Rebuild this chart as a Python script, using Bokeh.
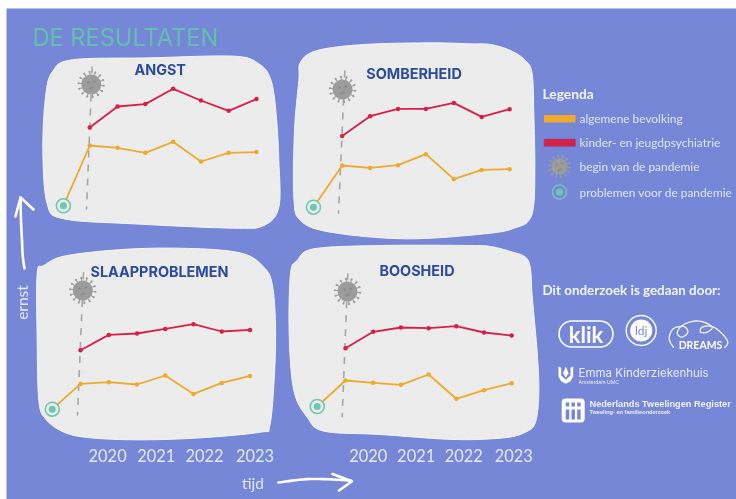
import math
from bokeh.plotting import figure
from bokeh.models import Range1d
from bokeh.core.properties import value
from bokeh.embed import file_html
from bokeh.resources import INLINE

title = "DE RESULTATEN"
panel_names = ["ANGST", "SOMBERHEID", "SLAAPPROBLEMEN", "BOOSHEID"]
measure_index = [1, 2, 3, 4, 5, 6, 7]
year_labels = ["2020", "2021", "2022", "2023"]

# severity (arbitrary units), pre-pandemic point is the zero
angst_general = [0, 60.3, 58, 53, 64, 44.3, 53, 53.7]
angst_clinic = [78.3, 99.3, 101.7, 117, 105.3, 95, 106.7]
somber_general = [0, 41.7, 39.3, 42, 53, 28, 37.3, 38]
somber_clinic = [71.3, 91, 98.3, 98.3, 104.3, 90.3, 98]
slaap_general = [0, 25.3, 27, 24.7, 33.7, 15.3, 26.3, 33.3]
slaap_clinic = [59, 74.3, 75.7, 80.3, 85, 77.7, 79.3]
boos_general = [0, 26, 23.7, 21.7, 32, 7.7, 16.3, 23.3]
boos_clinic = [58.3, 74.7, 79, 78.3, 80.3, 74, 71]
pre_index = [0.05, -0.03, 0.0, -0.02]
slaap_year_ticks = [1.96, 3.68, 5.39, 7.18]
boos_year_ticks = [1.82, 3.55, 5.27, 7.07]

legend_labels = ["algemene bevolking", "kinder- en jeugdpsychiatrie",
                 "begin van de pandemie", "problemen voor de pandemie"]

BG = "#7587d6"
PANEL = "#ececec"
YEL = "#eeaa2c"
RED = "#d81f45"
TEAL = "#6cc8b2"
NAVY = "#2b4b9b"
SOFT = "#e4e8f8"
GREY = "#9c9c9c"


def smooth(points, closed=True, n=10):
    pts = list(points)
    L = len(pts)
    xs, ys = [], []
    rng = range(L) if closed else range(L - 1)
    for i in rng:
        if closed:
            p0, p1, p2, p3 = pts[(i - 1) % L], pts[i], pts[(i + 1) % L], pts[(i + 2) % L]
        else:
            p0, p1, p2, p3 = pts[max(i - 1, 0)], pts[i], pts[i + 1], pts[min(i + 2, L - 1)]
        for k in range(n):
            t = k / n
            for j, out in ((0, xs), (1, ys)):
                out.append(0.5 * (2 * p1[j] + (p2[j] - p0[j]) * t
                                  + (2 * p0[j] - 5 * p1[j] + 4 * p2[j] - p3[j]) * t * t
                                  + (3 * p1[j] - p0[j] - 3 * p2[j] + p3[j]) * t ** 3))
    if not closed:
        xs.append(pts[-1][0])
        ys.append(pts[-1][1])
    return xs, ys


def zoomed(points, ox, oy):
    return [(ox + a / 3, oy + b / 3) for a, b in points]


LEFT, RIGHT, TOP, BOTTOM = 0, 736, 0, 499
p = figure(width=RIGHT - LEFT, height=BOTTOM - TOP, toolbar_location=None, output_backend="svg",
           x_range=Range1d(LEFT, RIGHT), y_range=Range1d(BOTTOM, TOP),
           min_border=0, outline_line_color=None, background_fill_color="white",
           border_fill_color="white")
p.styles = {"position": "fixed", "left": "0", "top": "0"}
p.xaxis.visible = False
p.yaxis.visible = False
p.grid.visible = False

p.quad(left=[6], right=[736], top=[8], bottom=[499], fill_color=BG, line_color=None)


def label(x, y, t, size, color=SOFT, font="Lato", style="normal", align="left", angle=0.0, **kw):
    p.text([x], [y], text=[t], text_font=value(font), text_font_size=f"{size}px",
           text_font_style=style, text_color=color, text_align=align,
           text_baseline="middle", angle=angle, **kw)


label(32, 36.5, title, 23.6, color="#62c0ae", font="Inter")

blobs = [
    zoomed([(215, 178), (450, 172), (700, 167), (775, 190), (810, 235), (826, 330), (835, 480), (835, 620),
            (790, 675), (700, 683), (400, 670), (190, 655), (140, 610), (127, 450), (135, 290), (155, 215)], 0, 0),
    zoomed([(60, 95), (110, 60), (250, 42), (450, 37), (570, 40), (630, 42), (690, 60), (735, 90), (755, 130),
            (760, 250), (763, 400), (760, 520), (745, 570), (710, 590), (630, 608), (380, 625), (150, 605),
            (60, 570), (40, 500), (42, 300), (55, 150)], 280, 30),
    zoomed([(110, 100), (130, 75), (200, 45), (400, 25), (600, 25), (730, 40), (790, 80), (815, 130), (825, 250),
            (822, 400), (808, 555), (780, 575), (600, 592), (420, 598), (270, 592), (190, 575), (135, 535),
            (115, 480), (110, 300)], 0, 240),
    zoomed([(30, 100), (50, 60), (100, 25), (300, 15), (570, 15), (630, 18), (690, 33), (735, 50), (750, 85),
            (755, 165), (770, 335), (775, 455), (765, 545), (735, 575), (670, 592), (520, 597), (300, 582),
            (130, 572), (80, 530), (40, 450), (26, 280)], 280, 240),
]
for b in blobs:
    xs, ys = smooth(b)
    p.patch(xs, ys, fill_color=PANEL, line_color="#f6f7fb", line_width=1)


def virus(cx, cy, r=9.5):
    xs0, ys0, xs1, ys1 = [], [], [], []
    for i in range(14):
        a = 2 * math.pi * i / 14 + 0.1
        xs0.append(cx + r * math.cos(a))
        ys0.append(cy + r * math.sin(a))
        xs1.append(cx + (r + 3.2) * math.cos(a))
        ys1.append(cy + (r + 3.2) * math.sin(a))
    p.segment(xs0, ys0, xs1, ys1, line_color=GREY, line_width=1.1)
    p.scatter(xs1, ys1, size=2.2, fill_color=GREY, line_color=None)
    p.scatter([cx], [cy], size=2 * r + 1, fill_color=GREY, line_color=None)
    p.scatter([cx - 3, cx + 3, cx + 1, cx - 1], [cy - 2, cy - 3, cy + 3, cy + 4], size=2.4,
              fill_color="#8a8a8a", line_color=None)


dash_lines = [((91.7, 66), (86, 209)), (zoomed([(193, 120), (174, 550)], 280, 30)),
              (zoomed([(249, 95), (231, 525)], 0, 240)), (zoomed([(202, 98), (185, 530)], 280, 240))]
for a, b in dash_lines:
    p.line([a[0], b[0]], [a[1], b[1]], line_color="#a6a6a6", line_width=1.6, line_dash="7 7")

virus_pos = [(90.7, 84), (342, 89), (82.3, 290), (347, 291)]
for c in virus_pos:
    virus(*c)

# per panel scale: pixel of index 1, px per index step, pixel of severity 0
panel_scales = [(89.3, 27.78, 205.3), (341.7, 27.9, 206.7), (80.0, 28.25, 408.7), (345.0, 27.7, 406.0)]
general = [angst_general, somber_general, slaap_general, boos_general]
clinic = [angst_clinic, somber_clinic, slaap_clinic, boos_clinic]

for i, (x0, dx, y0) in enumerate(panel_scales):
    xn, yn = f"px{i}", f"py{i}"
    p.extra_x_ranges[xn] = Range1d(1 + (LEFT - x0) / dx, 1 + (RIGHT - x0) / dx)
    p.extra_y_ranges[yn] = Range1d(y0 - BOTTOM, y0 - TOP)
    kw = dict(x_range_name=xn, y_range_name=yn)
    gx = [pre_index[i]] + measure_index
    p.line(gx, general[i], line_color=YEL, line_width=1.8, **kw)
    p.scatter(gx[1:], general[i][1:], size=4.5, fill_color=YEL, line_color=None, **kw)
    p.line(measure_index, clinic[i], line_color=RED, line_width=1.8, **kw)
    p.scatter(measure_index, clinic[i], size=4.5, fill_color=RED, line_color=None, **kw)
    p.scatter(gx[:1], general[i][:1], size=14, fill_color=PANEL, line_color=TEAL, line_width=1.6, **kw)
    p.scatter(gx[:1], general[i][:1], size=7, fill_color=TEAL, line_color=None, **kw)
    if i >= 2:
        ticks = slaap_year_ticks if i == 2 else boos_year_ticks
        p.text(ticks, [y0 - 455] * 4,
               text=year_labels, text_font=value("Lato"), text_font_size="16.4px",
               text_color=SOFT, text_align="center", text_baseline="middle", **kw)

title_pos = [(159.7, 69), (413.5, 73), (159, 270.7), (416.5, 270.3)]
for name, (x, y) in zip(panel_names, title_pos):
    label(x, y, name, 14.4, color=NAVY, font="Inter", style="bold", align="center")

# axes arrows
axis_white = dict(line_color="white", line_cap="round", line_join="round")
xs, ys = smooth([(21.5, 240), (20.5, 220), (20, 197)], closed=False)
p.line(xs, ys, line_width=2.6, **axis_white)
xs, ys = smooth([(21.5, 240), (22.2, 255), (24, 268)], closed=False)
p.line(xs, ys, line_width=2.6, **axis_white)
p.line([15, 20, 33], [216, 197, 209], line_width=2.6, **axis_white)
xs, ys = smooth([(278, 482), (310, 478.5), (350, 480)], closed=False)
p.line(xs, ys, line_width=2.6, **axis_white)
p.line([332, 351.5, 338.5], [473.5, 480.7, 490], line_width=2.6, **axis_white)
label(21, 302, "ernst", 15.5, align="center", angle=math.pi / 2)
label(252.5, 482, "tijd", 15.5, align="center")

# legend
label(542, 93, "Legenda", 13.8, color="#f2f4fc", style="bold")
p.quad(left=[543.5], right=[575], top=[114.5], bottom=[122], fill_color=YEL, line_color=None)
p.quad(left=[543.5], right=[575], top=[138.5], bottom=[146], fill_color=RED, line_color="#6d5cb0", line_width=0.6)
virus(559, 166, r=7.5)
p.scatter([559], [191.5], size=14, fill_color=BG, line_color=TEAL, line_width=1.6)
p.scatter([559], [191.5], size=7, fill_color=TEAL, line_color=None)
for t, y in zip(legend_labels, [117.7, 141.7, 166, 191.7]):
    label(579, y, t, 11.9, color="#dfe4f8")

# credits
label(542, 289.5, "Dit onderzoek is gedaan door:", 13.4, color="#f2f4fc", style="bold")
p.rect([585.5], [333.5], width=54, height=26, border_radius=13, fill_color=None, line_color="white", line_width=1.6)
label(585.5, 333.5, "klik", 22, color="white", style="bold", align="center")
p.scatter([640.7], [330], size=30, fill_color=None, line_color="white", line_width=1.4)
p.scatter([640.7], [330], size=22, fill_color="white", line_color=None)
label(640.7, 330, "ldj", 12, color=BG, align="center")
cloud = zoomed([(430, 232), (416, 205), (428, 175), (460, 168), (472, 185), (455, 200), (440, 188), (455, 165),
                (490, 152), (520, 155), (545, 170), (530, 185), (510, 185), (515, 170), (545, 168), (575, 190),
                (592, 215), (582, 232)], 530, 270)
xs, ys = smooth(cloud, closed=False)
p.line(xs, ys, line_color="white", line_width=1.2)
label(700, 344.5, "DREAMS", 10.5, color="white", style="bold", align="center")
shield = zoomed([(84, 288), (84, 318), (92, 332), (106, 340), (120, 332), (128, 318), (128, 288), (120, 292),
                 (120, 315), (106, 328), (92, 315), (92, 292)], 530, 270)
p.patch([q[0] for q in shield], [q[1] for q in shield], fill_color="white", line_color=None)
petal = zoomed([(106, 288), (98, 308), (106, 322), (114, 308)], 530, 270)
p.patch([q[0] for q in petal], [q[1] for q in petal], fill_color="white", line_color=None)
label(578, 372.5, "Emma Kinderziekenhuis", 11.5, color="#e8ebfa", font="Inter")
label(578, 381.5, "Amsterdam UMC", 5, color="#e8ebfa", font="Inter")
p.rect([572.7], [410], width=23, height=24, border_radius=4, fill_color="white", line_color=None)
p.rect([567, 572.7, 578.4], [404, 404, 404], width=3.5, height=4, fill_color=BG, line_color=None)
p.rect([567, 572.7, 578.4], [414, 414, 414], width=3.5, height=10, fill_color=BG, line_color=None)
label(589, 403, "Nederlands Tweelingen Register", 9.2, color="#eef0fb", font="Liberation Sans", style="bold")
label(589, 411, "Tweeling- en familieonderzoek", 5.6, color="#eef0fb", font="Liberation Sans", style="bold")

open("out.html", "w").write(file_html(p, INLINE))
